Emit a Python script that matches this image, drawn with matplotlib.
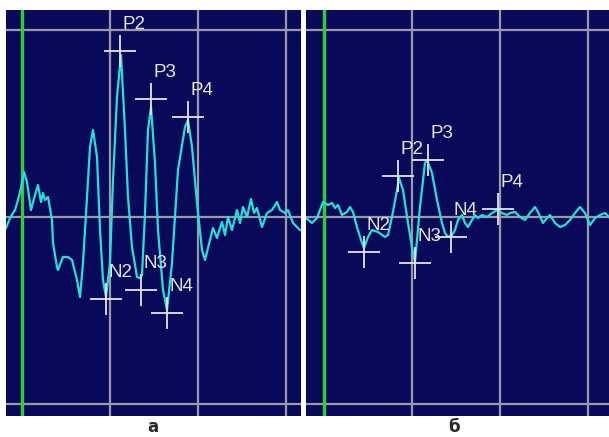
import matplotlib
matplotlib.use("Agg")
import matplotlib.pyplot as plt

# ---- data (time in samples from stimulus, amplitude in arbitrary units) ----
t_a = [-16, -12, -7, -4, -1, 2, 5, 9, 13, 16, 19, 21, 23, 26, 30, 31, 35, 36, 41, 46, 50, 55, 58,
       61, 65, 68, 71, 75, 78, 81, 84, 88, 91, 95, 99, 103, 106, 110, 115, 118, 120, 123, 126, 129,
       133, 136, 141, 145, 150, 156, 163, 166, 170, 175, 180, 183, 188, 191, 195, 200, 203, 206,
       210, 215, 218, 221, 225, 229, 232, 235, 240, 245, 250, 255, 258, 263, 266, 271, 278]
amp_a = [-11, -1, 7, 17, 29, 45, 35, 7, 22, 32, 15, 24, 17, 20, -3, -26, -50, -53, -40, -40, -43, -63, -80,
         -46, 20, 70, 87, 60, -13, -63, -80, -46, 37, 120, 162, 87, 20, -30, -60, -61, -58, 4, 87, 110,
         54, -13, -73, -93, -46, 47, 90, 97, 70, 14, -33, -43, -23, -11, -21, -5, -18, 0,
         -13, 7, -6, 10, 0, 18, 4, 9, -10, 4, 7, 15, 7, 4, 7, -6, -13]

t_b = [-18, -12, -7, -1, 4, 8, 11, 14, 18, 23, 26, 29, 33, 38, 40, 44, 48, 54, 61, 64, 68, 73, 75,
       79, 84, 89, 91, 96, 101, 103, 108, 113, 118, 121, 124, 128, 131, 134, 138, 141, 144, 148,
       151, 154, 158, 163, 168, 173, 178, 183, 186, 191, 196, 201, 206, 211, 214, 219, 223, 226,
       231, 236, 241, 246, 251, 256, 261, 266, 271, 276, 281, 285]
amp_b = [-1, -6, -1, 15, 12, 14, 9, 12, 2, 5, 10, 5, -10, -26, -31, -20, -13, -15, -20, -18, 0, 27, 39,
         27, -6, -36, -45, 10, 54, 57, 44, 17, -6, -16, -20, -18, -13, -3, 2, -6, -10, -3,
         2, -1, 2, 0, 4, 7, 4, 2, 4, 5, 0, -3, 4, 10, 5, -6, -1, 2,
         -6, -10, -8, -3, 4, 10, 4, -8, -1, 2, 4, 0]

peak_names = ["N2", "P2", "N3", "P3", "N4", "P4"]
peak_t_a = [84, 98, 119, 129, 145, 166]
peak_amp_a = [-82, 166, -73, 118, -96, 100]
peak_t_b = [40, 74, 91, 104, 127, 174]
peak_amp_b = [-35, 41, -46, 57, -20, 8]

panel_labels = ["а", "б"]

# ---- style ----
W, H = 609, 437
BG = "#09095a"
GRID = "#9a9aa6"
GREEN = "#33cc33"
CYAN = "#25e0d8"
MARK = "#e4e4e4"

fig = plt.figure(figsize=(W / 100, H / 100), dpi=100)
fig.patch.set_facecolor("white")

div_x, div_y = 88, 187
panels = [
    dict(px=(6, 301), xlim=(-16, 279), t=t_a, amp=amp_a, pt=peak_t_a, pa=peak_amp_a, lab_x=153),
    dict(px=(306, 609), xlim=(-18, 285), t=t_b, amp=amp_b, pt=peak_t_b, pa=peak_amp_b, lab_x=454),
]
top_px, bot_px = 10, 416

for i, p in enumerate(panels):
    x0, x1 = p["px"]
    ax = fig.add_axes([x0 / W, 1 - bot_px / H, (x1 - x0) / W, (bot_px - top_px) / H])
    ax.set_facecolor(BG)
    ax.set_xlim(*p["xlim"])
    ax.set_ylim(-(bot_px - 217), 217 - top_px)
    for s in ax.spines.values():
        s.set_visible(False)
    ax.set_xticks([])
    ax.set_yticks([])
    for gx in [div_x, 2 * div_x, 3 * div_x]:
        ax.axvline(gx, color=GRID, lw=1.6, zorder=1)
    for gy in [-div_y, 0, div_y]:
        ax.axhline(gy, color=GRID, lw=1.6, zorder=1)
    ax.axvline(0, color=GREEN, lw=2.4, zorder=2)
    ax.plot(p["t"], p["amp"], color=CYAN, lw=1.6, zorder=3)
    ax.plot(p["pt"], p["pa"], ls="none", marker="+", ms=23, mew=1.3, color=MARK, zorder=4)
    for name, tx, ay in zip(peak_names, p["pt"], p["pa"]):
        ax.annotate(name, (tx, ay), xytext=(2, 15.5), textcoords="offset points",
                    ha="left", va="baseline", color=MARK, fontsize=13.5,
                    family="Liberation Sans", zorder=5)
    fig.text(p["lab_x"] / W, 1 - 427 / H, panel_labels[i], ha="center", va="center",
             fontsize=12, fontweight="bold", color="#2a2a2a", family="DejaVu Sans")

fig.savefig("out.png", dpi=100, facecolor="white")
